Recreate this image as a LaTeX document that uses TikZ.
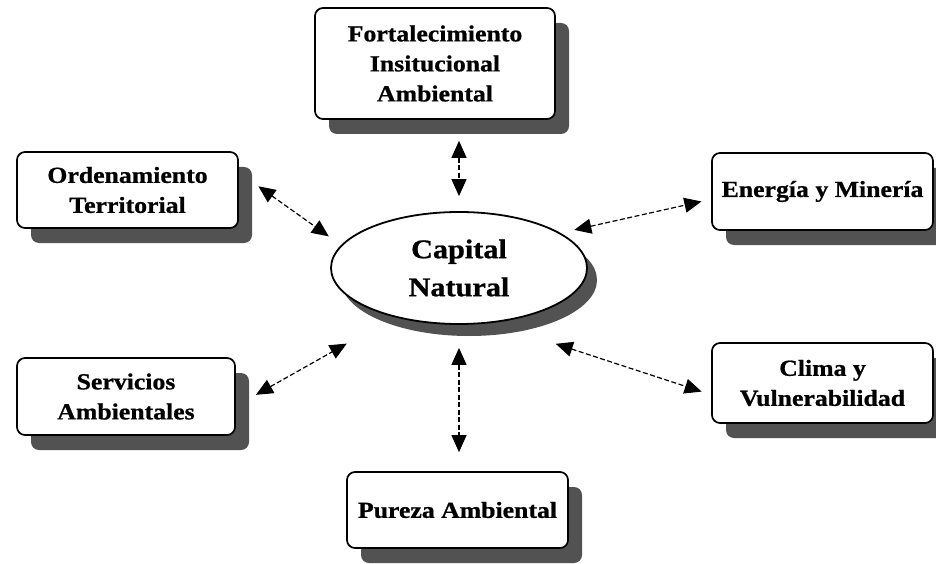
\documentclass[tikz,border=0pt]{standalone}
\usepackage{fontspec}
\setmainfont{Liberation Serif}[FakeStretch=1.12, BoldFeatures={FakeBold=0.8}]
\usetikzlibrary{shadows,arrows.meta,calc,shapes.geometric}
\begin{document}
\begin{tikzpicture}[x=1pt,y=-1pt,
  box/.style={draw=black, line width=1.7pt, rounded corners=8pt, fill=white,
    align=center, inner sep=0pt,
    font=\bfseries\fontsize{23}{30}\selectfont,
    drop shadow={shadow xshift=14pt, shadow yshift=-15pt, fill=black!68, opacity=1}},
  centre/.style={ellipse, draw=black, line width=1.8pt, fill=white, inner sep=0pt,
    align=center, font=\bfseries\fontsize{27}{38}\selectfont,
    drop shadow={shadow xshift=10pt, shadow yshift=-12pt, fill=black!68, opacity=1}},
  arr/.style={{Triangle[length=17pt,width=15pt]}-{Triangle[length=17pt,width=15pt]},
    line width=1.2pt, dash pattern=on 5pt off 2.5pt}
]
\fill[white] (0,0) rectangle (936,564);
\useasboundingbox (0,0) rectangle (936,564);

\node[box, minimum width=240pt, minimum height=111pt] (fort) at (435,63.5)
  {\fontsize{23}{33}\selectfont Fortalecimiento\\Insitucional\\Ambiental};
\node[box, minimum width=221pt, minimum height=76pt] (ord) at (127.5,190)
  {Ordenamiento\\Territorial};
\node[box, minimum width=221pt, minimum height=77pt] (ener) at (822.5,191.5)
  {Energía y Minería};
\node[box, minimum width=218pt, minimum height=77pt] (serv) at (126,396.5)
  {Servicios\\Ambientales};
\node[box, minimum width=221pt, minimum height=76pt] (pur) at (457.5,510)
  {Pureza Ambiental};
\node[box, minimum width=221pt, minimum height=80pt] (clima) at (822.5,383)
  {Clima y\\Vulnerabilidad};

\node[centre, minimum width=256pt, minimum height=112pt] (cap) at (459,268)
  {Capital\\Natural};

\draw[arr, shorten <=21pt, shorten >=15pt] (fort.south -| cap.north) -- (cap.north);
\draw[arr, shorten <=24pt, shorten >=15pt] (ord.9) -- (cap.169);
\draw[arr, shorten <=14pt, shorten >=10pt] (cap.19) -- (ener.184);
\draw[arr, shorten <=23pt, shorten >=54pt] (serv.-5) -- (cap.217);
\draw[arr, shorten <=23pt, shorten >=19pt] (cap.south) -- (cap.south |- pur.north);
\draw[arr, shorten <=67pt, shorten >=10pt] (cap.-59) -- (clima.186);
\end{tikzpicture}
\end{document}
